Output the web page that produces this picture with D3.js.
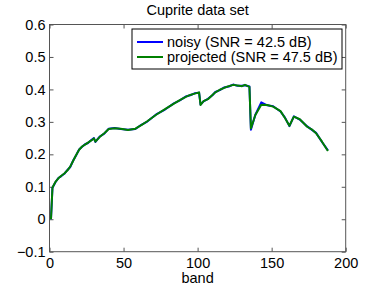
<!DOCTYPE html>
<html>
<head>
<meta charset="utf-8">
<script src="https://cdn.jsdelivr.net/npm/d3@7"></script>
<style>
  body { margin: 0; background: #fff; }
  svg { display: block; font-family: "Liberation Sans", Arial, sans-serif; }
</style>
</head>
<body>
<svg id="chart" width="382" height="287"></svg>
<script>
const title = "Cuprite data set";
const xLabel = "band";
const seriesNames = ["noisy (SNR = 42.5 dB)", "projected (SNR = 47.5 dB)"];
const seriesColors = ["#0000ff", "#008000"];
const xTicks = [0, 50, 100, 150, 200];
const yTicks = [-0.1, 0, 0.1, 0.2, 0.3, 0.4, 0.5, 0.6];

const bands = [1, 2, 4, 6, 8, 10, 12, 14, 16, 18, 20, 22, 24, 26, 28, 30, 31, 34, 37, 40,
  44, 48, 53, 58, 62, 66, 72, 78, 84, 88, 92, 95, 98, 101, 102, 104, 107, 110, 112, 115,
  118, 121, 124, 127, 130, 132, 135, 136, 139, 143, 147, 151, 156, 159, 162, 165, 169, 174,
  177, 180, 184, 188];
const noisy = [0.000, 0.097, 0.114, 0.127, 0.133, 0.140, 0.151, 0.161, 0.181, 0.197, 0.215, 0.223,
  0.231, 0.235, 0.243, 0.250, 0.238, 0.255, 0.264, 0.279, 0.281, 0.278, 0.276, 0.278,
  0.291, 0.301, 0.323, 0.338, 0.357, 0.366, 0.378, 0.382, 0.388, 0.390, 0.353, 0.363,
  0.371, 0.382, 0.392, 0.398, 0.406, 0.409, 0.415, 0.411, 0.411, 0.413, 0.409, 0.276,
  0.322, 0.360, 0.351, 0.348, 0.332, 0.313, 0.287, 0.317, 0.307, 0.286, 0.276, 0.266,
  0.238, 0.212];
const projected = [0.000, 0.098, 0.115, 0.126, 0.134, 0.141, 0.150, 0.162, 0.180, 0.198, 0.214, 0.224,
  0.230, 0.236, 0.242, 0.249, 0.239, 0.254, 0.265, 0.278, 0.280, 0.279, 0.275, 0.279,
  0.290, 0.302, 0.322, 0.339, 0.356, 0.367, 0.377, 0.383, 0.387, 0.391, 0.352, 0.364,
  0.370, 0.383, 0.391, 0.399, 0.405, 0.410, 0.414, 0.412, 0.410, 0.414, 0.408, 0.280,
  0.321, 0.353, 0.352, 0.347, 0.333, 0.312, 0.288, 0.316, 0.308, 0.285, 0.277, 0.265,
  0.239, 0.210];

const svg = d3.select("#chart");
const margens = { left: 49.5, right: 36.3, top: 24.5, bottom: 35.3 };
const width = 382, height = 287;
const innerWidth = width - margens.left - margens.right;
const innerHeight = height - margens.top - margens.bottom;
const fontSize = "14.5px";

const x = d3.scaleLinear().domain([0, 200]).range([0, innerWidth]);
const y = d3.scaleLinear().domain([-0.1, 0.6]).range([innerHeight, 0]);

const g = svg.append("g").attr("transform", `translate(${margens.left}, ${margens.top})`);

const fmtY = v => v < 0 ? "\u2212" + Math.abs(v) : String(+v.toFixed(1));

// axes (ticks pointing inward, matlab style)
const axisColor = "#555";
function styleAxis(sel) {
  sel.selectAll(".domain").remove();
  sel.selectAll(".tick line").attr("stroke", axisColor);
  sel.selectAll(".tick text").attr("fill", "#000").attr("font-size", fontSize);
}
g.append("g").attr("transform", `translate(0, ${innerHeight})`)
  .call(d3.axisBottom(x).tickValues(xTicks).tickSizeInner(-4).tickSizeOuter(0).tickPadding(6))
  .call(styleAxis);
g.append("g")
  .call(d3.axisTop(x).tickValues(xTicks).tickSizeInner(-4).tickSizeOuter(0).tickFormat(""))
  .call(styleAxis);
g.append("g")
  .call(d3.axisLeft(y).tickValues(yTicks).tickSizeInner(-4).tickSizeOuter(0).tickPadding(4).tickFormat(fmtY))
  .call(styleAxis);
g.append("g").attr("transform", `translate(${innerWidth}, 0)`)
  .call(d3.axisRight(y).tickValues(yTicks).tickSizeInner(-4).tickSizeOuter(0).tickFormat(""))
  .call(styleAxis);

g.append("rect")
  .attr("width", innerWidth).attr("height", innerHeight)
  .attr("fill", "none").attr("stroke", axisColor).attr("stroke-width", 1);

// series
const series = [noisy, projected];
const line = d3.line().x((d, i) => x(bands[i])).y(d => y(d));
g.selectAll(".series")
  .data(series)
  .join("path")
  .attr("class", "series")
  .attr("fill", "none")
  .attr("stroke", (d, i) => seriesColors[i])
  .attr("stroke-width", 2)
  .attr("stroke-linejoin", "round")
  .attr("d", line);

// title & label
svg.append("text")
  .attr("x", margens.left + innerWidth / 2).attr("y", 15)
  .attr("text-anchor", "middle").attr("font-size", fontSize)
  .text(title);
svg.append("text")
  .attr("x", margens.left + innerWidth / 2).attr("y", 282.5)
  .attr("text-anchor", "middle").attr("font-size", fontSize)
  .text(xLabel);

// legend
const legend = svg.append("g").attr("transform", "translate(132, 29)");
legend.append("rect")
  .attr("width", 210).attr("height", 40)
  .attr("fill", "#fff").attr("stroke", "#000").attr("stroke-width", 1);
const items = legend.selectAll(".item")
  .data(seriesNames)
  .join("g")
  .attr("class", "item")
  .attr("transform", (d, i) => `translate(0, ${13 + i * 15})`);
items.append("line")
  .attr("x1", 5).attr("x2", 31)
  .attr("stroke", (d, i) => seriesColors[i]).attr("stroke-width", 2);
items.append("text")
  .attr("x", 35).attr("y", 5)
  .attr("font-size", fontSize)
  .text(d => d);
</script>
</body>
</html>
